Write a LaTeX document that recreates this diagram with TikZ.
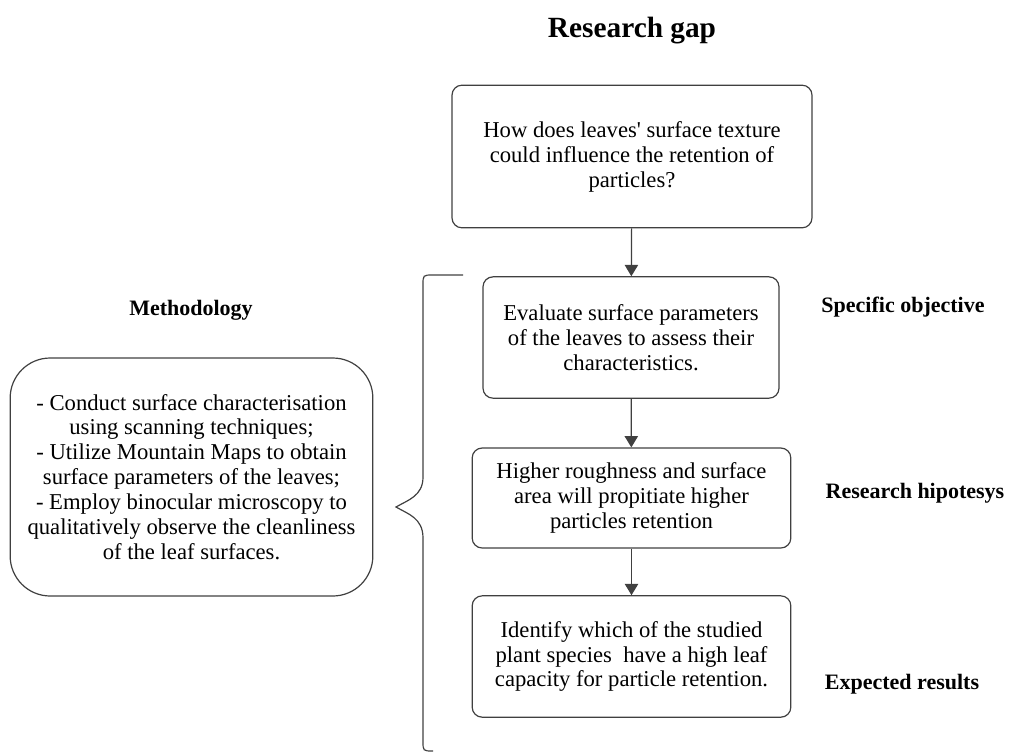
\documentclass[tikz,border=0pt]{standalone}
\usepackage{fontspec}
\setmainfont{Liberation Serif}
\usepackage{tikz}
\usetikzlibrary{arrows.meta,positioning,shapes}

\begin{document}
\begin{tikzpicture}[x=0.75pt, y=-0.75pt, semithick,
    every node/.style={font=\fontsize{17}{18.7}\selectfont, text=black},
    box/.style={draw=black!75, line width=0.9pt, rounded corners=7.5pt, align=center, inner sep=0pt},
    label/.style={font=\fontsize{16.5}{19}\selectfont\bfseries},
    every edge/.style={draw=black!75, line width=0.9pt, -{Triangle[width=10pt,length=8.5pt]}}
    ]
\useasboundingbox (0,0) rectangle (1011,754);
% \draw[help lines] (0,0) grid (1011,754);
\node[font=\fontsize{22}{26}\selectfont\bfseries] (title) at (632,31) {Research gap};

\node[box, minimum width=270pt, minimum height=107pt] (q) at (632,156.5)
  {How does leaves\textquotesingle{} surface texture\\could influence the retention of\\particles?};
\node[box, minimum width=222pt, minimum height=91pt] (obj) at (631,337.5)
  {Evaluate surface parameters\\of the leaves to assess their\\characteristics.};
\node[box, minimum width=239pt, minimum height=75pt] (hyp) at (631.5,498)
  {Higher roughness and surface\\area will propitiate higher\\particles retention};
\node[box, minimum width=239pt, minimum height=91pt] (res) at (631.5,656.5)
  {Identify which of the studied\\plant species\ \ have a high leaf\\capacity for particle retention.};

\node[label] (objlbl) at (903,307) {Specific objective};
\node[label] (hyplbl) at (915,493) {Research hipotesys};
\node[label] (reslbl) at (902,684) {Expected results};

\node[label] (methlbl) at (191,310) {Methodology};
\node[box, rounded corners=30pt, minimum width=272pt, minimum height=178.5pt] (meth) at (191.5,477)
  {- Conduct surface characterisation\\using scanning techniques;\\- Utilize Mountain Maps to obtain\\surface parameters of the leaves;\\- Employ binocular microscopy to\\qualitatively observe the cleanliness\\of the leaf surfaces.};

\path
(q)   edge (obj)
(obj) edge (hyp)
(hyp) edge (res)
;

% brace
\draw[black!75, line width=0.9pt]
  (463,275) -- (433,275) .. controls (423,275) .. (423,285)
  -- (423,477) .. controls (423,496) and (408,500) .. (396,507)
  .. controls (408,514) and (423,518) .. (423,538)
  -- (423,741) .. controls (423,751) .. (433,751);
\end{tikzpicture}
\end{document}
